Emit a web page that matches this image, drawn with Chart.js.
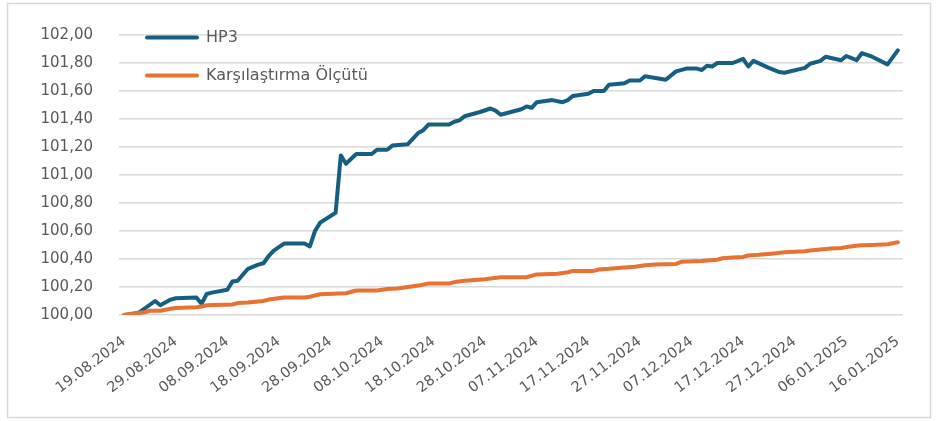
<!DOCTYPE html>
<html>
<head>
<meta charset="utf-8">
<script src="https://cdn.jsdelivr.net/npm/chart.js@4/dist/chart.umd.min.js"></script>
<style>
  html, body { margin: 0; padding: 0; background: #ffffff; }
  #wrap { width: 937px; height: 421px; }
</style>
</head>
<body>
<div id="wrap"><canvas id="chart" width="937" height="421"></canvas></div>
<script>
// Day offsets from 19.08.2024 and the matching unit values
const hp3Days = [0,2,3,6,7,9,10,14,15,16,17,20,21,22,24,26,27,28,29,31,35,36,37,38,41,42,43,45,48,49,51,52,55,56,57,58,59,63,64,65,66,69,71,72,73,77,78,79,80,83,85,86,87,90,91,93,94,97,98,100,101,105,107,109,111,112,113,114,115,118,120,121,122,125,127,128,132,133,135,136,139,140,142,143,145,148,150];
const hp3Values = [100.00,100.01,100.02,100.10,100.07,100.11,100.12,100.125,100.08,100.15,100.16,100.18,100.24,100.245,100.33,100.36,100.37,100.42,100.46,100.51,100.51,100.49,100.60,100.66,100.73,101.14,101.08,101.15,101.15,101.18,101.18,101.21,101.22,101.26,101.30,101.32,101.36,101.36,101.38,101.39,101.42,101.45,101.475,101.46,101.43,101.47,101.49,101.48,101.52,101.535,101.52,101.535,101.565,101.58,101.60,101.60,101.645,101.655,101.675,101.675,101.705,101.68,101.74,101.76,101.76,101.75,101.78,101.775,101.80,101.80,101.83,101.775,101.815,101.765,101.735,101.73,101.765,101.795,101.815,101.845,101.82,101.85,101.82,101.87,101.845,101.79,101.89];

const benchDays = [0,2,4,5,7,9,10,14,15,16,21,22,24,27,28,31,35,36,38,43,45,49,51,53,56,57,59,63,64,66,70,71,73,78,80,84,86,87,91,92,94,97,99,101,103,107,108,112,113,115,116,118,120,121,123,126,128,132,133,135,137,139,140,142,143,145,148,150];
const benchValues = [100.00,100.01,100.02,100.03,100.03,100.045,100.05,100.055,100.06,100.07,100.075,100.085,100.09,100.10,100.11,100.125,100.125,100.13,100.148,100.155,100.175,100.175,100.185,100.19,100.205,100.21,100.225,100.225,100.235,100.245,100.255,100.26,100.27,100.27,100.29,100.295,100.305,100.315,100.315,100.325,100.33,100.34,100.345,100.355,100.36,100.365,100.38,100.385,100.39,100.395,100.405,100.41,100.415,100.425,100.43,100.44,100.448,100.455,100.46,100.468,100.475,100.478,100.485,100.494,100.498,100.50,100.505,100.52];

// Date labels every ten days along the axis
const tickDays = [0,10,20,30,40,50,60,70,80,90,100,110,120,130,140,150];
const tickLabels = ['19.08.2024','29.08.2024','08.09.2024','18.09.2024','28.09.2024','08.10.2024','18.10.2024','28.10.2024','07.11.2024','17.11.2024','27.11.2024','07.12.2024','17.12.2024','27.12.2024','06.01.2025','16.01.2025'];

const seriesNames = ['HP3', 'Karşılaştırma Ölçütü'];
const seriesColors = ['#156082', '#E97132'];

const TEXT = '#595959';
const GRID = '#d9d9d9';
const FONT = "'DejaVu Sans', sans-serif";

const toPoints = (days, vals) => days.map((d, i) => ({ x: d, y: vals[i] }));

// White page with a thin light frame around the whole chart
const framePlugin = {
  id: 'frame',
  beforeDraw(chart) {
    const ctx = chart.ctx;
    ctx.save();
    ctx.fillStyle = '#ffffff';
    ctx.fillRect(0, 0, chart.width, chart.height);
    ctx.strokeStyle = GRID;
    ctx.lineWidth = 1.5;
    ctx.strokeRect(7.5, 3.5, 923, 414);
    ctx.restore();
  }
};

// Legend placed inside the plot, top-left, stacked vertically
const insideLegend = {
  id: 'insideLegend',
  afterDraw(chart) {
    const ctx = chart.ctx;
    const rows = [37.5, 75.5];
    ctx.save();
    chart.data.datasets.forEach((ds, i) => {
      const y = rows[i];
      ctx.strokeStyle = ds.borderColor;
      ctx.lineWidth = 4;
      ctx.lineCap = 'round';
      ctx.beginPath();
      ctx.moveTo(147, y);
      ctx.lineTo(197, y);
      ctx.stroke();
      ctx.fillStyle = TEXT;
      ctx.font = '16px ' + FONT;
      ctx.textBaseline = 'middle';
      ctx.textAlign = 'left';
      ctx.fillText(ds.label, 206, y + 0.5);
    });
    ctx.restore();
  }
};

new Chart(document.getElementById('chart'), {
  type: 'line',
  data: {
    datasets: [
      {
        label: seriesNames[0],
        data: toPoints(hp3Days, hp3Values),
        borderColor: seriesColors[0],
        backgroundColor: seriesColors[0],
        borderWidth: 4,
        pointRadius: 0,
        tension: 0,
        borderJoinStyle: 'round',
        borderCapStyle: 'round',
        order: 1
      },
      {
        label: seriesNames[1],
        data: toPoints(benchDays, benchValues),
        borderColor: seriesColors[1],
        backgroundColor: seriesColors[1],
        borderWidth: 4,
        pointRadius: 0,
        tension: 0,
        borderJoinStyle: 'round',
        borderCapStyle: 'round',
        order: 0
      }
    ]
  },
  options: {
    responsive: false,
    animation: false,
    devicePixelRatio: 1,
    layout: { padding: { left: 0, right: 34, top: 22, bottom: 0 } },
    plugins: {
      legend: { display: false },
      tooltip: { enabled: false }
    },
    scales: {
      x: {
        type: 'linear',
        min: -1,
        max: 151,
        afterBuildTicks(scale) {
          scale.ticks = tickDays.map(v => ({ value: v }));
        },
        afterFit(scale) { scale.height = 106; },
        grid: { display: false, drawTicks: false },
        border: { display: false },
        ticks: {
          autoSkip: false,
          minRotation: 37,
          maxRotation: 37,
          padding: 18,
          color: TEXT,
          font: { family: FONT, size: 14.5 },
          callback(value) {
            const i = tickDays.indexOf(value);
            return i >= 0 ? tickLabels[i] : '';
          }
        }
      },
      y: {
        min: 100,
        max: 102,
        afterFit(scale) { scale.width = 119; },
        grid: { color: GRID, lineWidth: 1.5, drawTicks: false },
        border: { display: false },
        ticks: {
          stepSize: 0.2,
          padding: 26,
          color: TEXT,
          font: { family: FONT, size: 15 },
          callback(value) { return value.toFixed(2).replace('.', ','); }
        }
      }
    }
  },
  plugins: [framePlugin, insideLegend]
});
</script>
</body>
</html>
